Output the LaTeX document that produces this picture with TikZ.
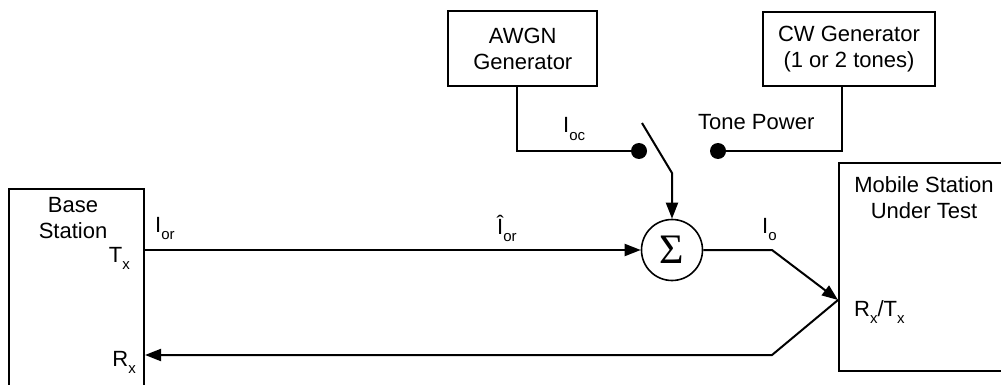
\documentclass[tikz,border=0pt]{standalone}
\usepackage{fontspec}
\setmainfont{Liberation Sans}
\newfontfamily\sigmafont{Liberation Serif}
\usetikzlibrary{arrows.meta}
% lowered, smaller index text (I_or, T_x, ...)
\newcommand\lowtext[1]{\raisebox{-7.5pt}{\fontsize{15}{15}\selectfont #1}}

\begin{document}
\begin{tikzpicture}[x=1pt, y=-1pt, font=\fontsize{22}{26}\selectfont,
  wire/.style={line width=2pt, line join=miter},
  arrowwire/.style={wire, -{Triangle[length=16pt,width=12pt]}},
  blockbox/.style={draw, line width=2pt, inner sep=0pt, align=center},
  dot/.style={circle, fill, inner sep=0pt, minimum size=16pt},
  lbl/.style={inner sep=0pt, anchor=base west},
  rlbl/.style={inner sep=0pt, anchor=base east}]
\useasboundingbox (0,0) rectangle (1001,385);

% generators
\node[blockbox, minimum width=149pt, minimum height=75pt] (awgn) at (522.8,48.5) {AWGN\\Generator};
\node[blockbox, minimum width=172pt, minimum height=74pt] (cw) at (849,49) {CW Generator\\(1 or 2 tones)};

% base station and mobile station (both run off the edge)
\node[blockbox, minimum width=135pt, minimum height=220pt, anchor=north west] (bs) at (8,188) {};
\node[inner sep=0pt, align=center] (bslabel) at (73,218) {Base\\Station};
\node[blockbox, minimum width=200pt, minimum height=208pt, anchor=north west] (ms) at (838,162) {};
\node[inner sep=0pt, align=center] (mslabel) at (924,198) {Mobile Station\\Under Test};

% summing junction
\node[circle, draw, line width=1.6pt, minimum size=61pt, inner sep=0pt] (sum) at (672,250)
  {\sigmafont\fontsize{42}{42}\selectfont Σ};

% switch contacts
\node[dot] (awgndot) at (639,151) {};
\node[dot] (tonedot) at (718,151) {};
\coordinate (swtop) at (642,123);
\coordinate (swbot) at (sum.north |- 0,173);

% port and bends
\coordinate (msport) at (838,300);
\coordinate (iobend) at (772,250);
\coordinate (rxbend) at (772,355);

% connectors
\draw[arrowwire] (bs.east |- sum.west) -- (sum.west);
\draw[arrowwire] (sum.east) -- (iobend) -- (msport);
\draw[arrowwire] (msport) -- (rxbend) -- (bs.east |- rxbend);
\draw[wire] ([xshift=-5.5pt]awgn.south) |- (awgndot.center);
\draw[wire] ([xshift=-7pt]cw.south) |- (tonedot.center);
\draw[arrowwire] (swtop) -- (swbot) -- (sum.north);

% labels
\node[lbl] (ior) at (155,232) {I\lowtext{or}};
\node[lbl] (iorhat) at (497,234) {Î\lowtext{or}};
\node[lbl] (ioc) at (563,133) {I\lowtext{oc}};
\node[lbl] (io) at (762,233) {I\lowtext{o}};
\node[lbl] (tone) at (698,130) {Tone Power};
\node[rlbl] (txl) at (130,262) {T\lowtext{x}};
\node[rlbl] (rxl) at (136,366) {R\lowtext{x}};
\node[lbl] (rxtx) at (854,316) {R\lowtext{x}/T\lowtext{x}};
\end{tikzpicture}
\end{document}
